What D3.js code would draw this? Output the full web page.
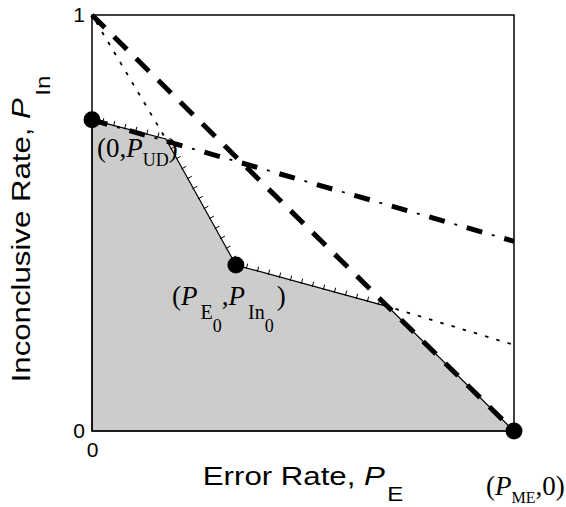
<!DOCTYPE html>
<html>
<head>
<meta charset="utf-8">
<script src="https://cdn.jsdelivr.net/npm/d3@7"></script>
<style>
  body { margin: 0; background: #fff; }
</style>
</head>
<body>
<svg id="chart"></svg>
<script>
// achievable region boundary (x = error rate, as fraction of P_ME; y = inconclusive rate)
const boundaryX = [0, 0, 0.175, 0.341, 0.701, 1];
const boundaryY = [0, 0.748, 0.702, 0.399, 0.299, 0];
// segments of the boundary (starting at the P_UD point) that get hatch ticks
const hatchedSegments = [1, 2, 3];

// reference lines
const dashedX = [0, 1], dashedY = [1, 0];
const dashDotX = [0, 1], dashDotY = [0.748, 0.456];
const dottedAX = [0, 0.175], dottedAY = [1, 0.702];
const dottedBX = [0.701, 1], dottedBY = [0.299, 0.207];

// marked points
const markerX = [0, 0.341, 1];
const markerY = [0.748, 0.399, 0];

const yTickValues = [0, 1];
const xTickValues = [0];

const width = 566, height = 507;
const margin = { top: 15, right: 52, bottom: 76, left: 92 };

const sans = 'Liberation Sans, Arial, sans-serif';
const serif = 'Liberation Serif, Times New Roman, serif';

const svg = d3.select('#chart')
    .attr('width', width)
    .attr('height', height);

const x = d3.scaleLinear().domain([0, 1]).range([margin.left, width - margin.right]);
const y = d3.scaleLinear().domain([0, 1]).range([height - margin.bottom, margin.top]);

const pts = (xs, ys) => xs.map((v, i) => [x(v), y(ys[i])]);
const line = d3.line();

// grey region
const boundary = pts(boundaryX, boundaryY);
svg.append('path')
    .attr('d', line(boundary) + 'Z')
    .attr('fill', '#cccccc')
    .attr('stroke', 'black')
    .attr('stroke-width', 1.2);

// hatch ticks on the outer side of the boundary
const ticks = [];
hatchedSegments.forEach(i => {
    const [x0, y0] = boundary[i];
    const [x1, y1] = boundary[i + 1];
    const len = Math.hypot(x1 - x0, y1 - y0);
    const dx = (x1 - x0) / len, dy = (y1 - y0) / len;
    const nx = dy, ny = -dx;
    for (let s = 11; s < len - 3; s += 11.4) {
        const px = x0 + dx * s, py = y0 + dy * s;
        ticks.push([[px - nx * 1, py - ny * 1], [px + nx * 4.5, py + ny * 4.5]]);
    }
});
svg.append('g')
    .selectAll('path')
    .data(ticks)
    .join('path')
    .attr('d', d => line(d))
    .attr('stroke', 'black')
    .attr('stroke-width', 1);

// frame
svg.append('rect')
    .attr('x', x(0))
    .attr('y', y(1))
    .attr('width', x(1) - x(0))
    .attr('height', y(0) - y(1))
    .attr('fill', 'none')
    .attr('stroke', 'black')
    .attr('stroke-width', 1.5);

// dotted lines
[[dottedAX, dottedAY], [dottedBX, dottedBY]].forEach(([xs, ys]) => {
    svg.append('path')
        .attr('d', line(pts(xs, ys)))
        .attr('fill', 'none')
        .attr('stroke', 'black')
        .attr('stroke-width', 1.8)
        .attr('stroke-dasharray', '3.5,8.2')
        .attr('stroke-dashoffset', -8);
});

// heavy dashed line
svg.append('path')
    .attr('d', line(pts(dashedX, dashedY)))
    .attr('fill', 'none')
    .attr('stroke', 'black')
    .attr('stroke-width', 5)
    .attr('stroke-dasharray', '18,13');

// heavy dash-dot line: thick dashes plus thin dots
const dashDot = line(pts(dashDotX, dashDotY));
svg.append('path')
    .attr('d', dashDot)
    .attr('fill', 'none')
    .attr('stroke', 'black')
    .attr('stroke-width', 5)
    .attr('stroke-dasharray', '16,23');
svg.append('path')
    .attr('d', dashDot)
    .attr('fill', 'none')
    .attr('stroke', 'black')
    .attr('stroke-width', 1.8)
    .attr('stroke-dasharray', '3,36')
    .attr('stroke-dashoffset', -26);

// markers
svg.append('g')
    .selectAll('circle')
    .data(markerX)
    .join('circle')
    .attr('cx', d => x(d))
    .attr('cy', (d, i) => y(markerY[i]))
    .attr('r', 8.5)
    .attr('fill', 'black');

// axes (labels only)
const yAxis = d3.axisLeft(y).tickValues(yTickValues).tickSize(0).tickPadding(7).tickFormat(d3.format('d'));
const xAxis = d3.axisBottom(x).tickValues(xTickValues).tickSize(0).tickPadding(11).tickFormat(d3.format('d'));

const yAxisG = svg.append('g').attr('transform', `translate(${x(0)},0)`).call(yAxis);
const xAxisG = svg.append('g').attr('transform', `translate(0,${y(0)})`).call(xAxis);
[yAxisG, xAxisG].forEach(g => {
    g.select('.domain').remove();
    g.selectAll('text')
        .attr('font-family', sans)
        .attr('font-size', 21)
        .attr('fill', 'black');
});

// axis titles (glyphs are a bit wide in the original, hence the stretch)
const xTitle = svg.append('text')
    .attr('transform', 'translate(303,485) scale(1.2,1)')
    .attr('text-anchor', 'middle')
    .attr('font-family', sans)
    .attr('font-size', 26);
xTitle.append('tspan').text('Error Rate, ');
xTitle.append('tspan').attr('font-style', 'italic').text('P');
xTitle.append('tspan').attr('font-size', 20).attr('dy', 16).attr('dx', 2).text('E');

const yTitle = svg.append('text')
    .attr('transform', 'translate(30,229) rotate(-90) scale(1.2,1)')
    .attr('text-anchor', 'middle')
    .attr('font-family', sans)
    .attr('font-size', 26);
yTitle.append('tspan').text('Inconclusive Rate, ');
yTitle.append('tspan').attr('font-style', 'italic').text('P');
yTitle.append('tspan').attr('font-size', 20).attr('dy', 20).attr('dx', 2).text('In');

// point annotations
function mathLabel(px, py, parts) {
    const t = svg.append('text')
        .attr('x', px)
        .attr('y', py)
        .attr('font-family', serif)
        .attr('font-size', 27)
        .attr('fill', 'black');
    parts.forEach(p => {
        t.append('tspan')
            .attr('font-style', p.italic ? 'italic' : null)
            .attr('font-size', p.size || null)
            .attr('dy', p.dy || 0)
            .attr('dx', p.dx || 0)
            .text(p.t);
    });
}

mathLabel(97, 157, [
    { t: '(0,' },
    { t: 'P', italic: true },
    { t: 'UD', size: 18, dy: 9 },
    { t: ')', dy: -9 }
]);

mathLabel(172, 305, [
    { t: '(' },
    { t: 'P', italic: true },
    { t: 'E', size: 20, dy: 14, dx: 3 },
    { t: '0', size: 18, dy: 13 },
    { t: ',', dy: -27 },
    { t: 'P', italic: true },
    { t: 'In', size: 20, dy: 14, dx: 3 },
    { t: '0', size: 18, dy: 13 },
    { t: ')', dy: -27, dx: 3 }
]);

mathLabel(486, 495, [
    { t: '(' },
    { t: 'P', italic: true },
    { t: 'ME', size: 16, dy: 8 },
    { t: ',0)', dy: -8 }
]);
</script>
</body>
</html>
